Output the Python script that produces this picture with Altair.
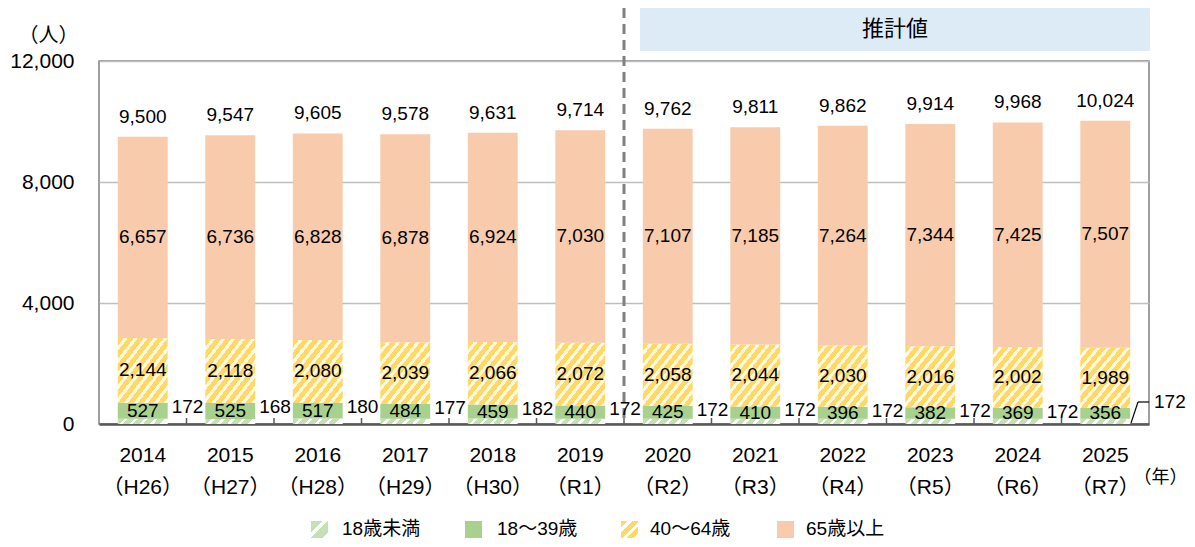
import altair as alt
import pandas as pd

years = ["2014", "2015", "2016", "2017", "2018", "2019", "2020", "2021", "2022", "2023", "2024", "2025"]
eras = ["（H26）", "（H27）", "（H28）", "（H29）", "（H30）", "（R1）", "（R2）", "（R3）", "（R4）", "（R5）", "（R6）", "（R7）"]
under18 = [172, 168, 180, 177, 182, 172, 172, 172, 172, 172, 172, 172]
age18_39 = [527, 525, 517, 484, 459, 440, 425, 410, 396, 382, 369, 356]
age40_64 = [2144, 2118, 2080, 2039, 2066, 2072, 2058, 2044, 2030, 2016, 2002, 1989]
age65 = [6657, 6736, 6828, 6878, 6924, 7030, 7107, 7185, 7264, 7344, 7425, 7507]
totals = [9500, 9547, 9605, 9578, 9631, 9714, 9762, 9811, 9862, 9914, 9968, 10024]
series_names = ["18歳未満", "18〜39歳", "40〜64歳", "65歳以上"]
y_ticks = [0, 4000, 8000, 12000]
estimate_label = "推計値"
estimate_start = "2020"

FONT = "Liberation Sans, Noto Sans CJK JP"

labels = [f"{y}|{e}" for y, e in zip(years, eras)]

rows = []
for i, lab in enumerate(labels):
    vals = [under18[i], age18_39[i], age40_64[i], age65[i]]
    cum = 0
    for name, v in zip(series_names, vals):
        rows.append(dict(label=lab, year=years[i], series=name, value=v,
                         y0=cum, y1=cum + v, mid=cum + v / 2,
                         top39=under18[i] + age18_39[i]))
        cum += v
df = pd.DataFrame(rows)
tot_df = pd.DataFrame({"label": labels, "year": years, "total": totals})
one = pd.DataFrame({"a": [0]})


def stripes(c1, c2, n, frac, x2=1, y2=1):
    stops = []
    for k in range(n):
        a = k / n
        b = (k + frac) / n
        c = (k + 1) / n
        stops += [{"offset": a, "color": c1}, {"offset": b, "color": c1},
                  {"offset": b, "color": c2}, {"offset": c, "color": c2}]
    return {"gradient": "linear", "x1": 0, "y1": 0, "x2": x2, "y2": y2, "stops": stops}


GREEN_L = "#C5E0B4"
GREEN = "#A9D18E"
YELLOW = "#FFD966"
YELLOW_L = "#FFF7E0"
PEACH = "#F8CBAD"

fills = {
    "18歳未満": stripes(GREEN_L, "#FFFFFF", 5, 0.65, 1, 0.1),
    "18〜39歳": GREEN,
    "40〜64歳": stripes(YELLOW, YELLOW_L, 10, 0.6, 1, 1),
    "65歳以上": PEACH,
}
legend_fills = {
    "18歳未満": stripes(GREEN_L, "#FFFFFF", 2, 0.65, 1, 1),
    "18〜39歳": GREEN,
    "40〜64歳": stripes(YELLOW, "#FFFFFF", 3, 0.6, 1, 1),
    "65歳以上": PEACH,
}

W, H = 1050, 363
P_INNER = 0.43
STEP = W / len(years)
HALF_GAP = P_INNER * STEP / 2  # pixel distance from bar edge to band boundary

xscale = alt.Scale(paddingInner=P_INNER, paddingOuter=P_INNER / 2)
xaxis = alt.Axis(
    title="（年）", titleX=1061, titleY=53, titleAlign="center", titleBaseline="middle",
    titleFontSize=18, titleFontWeight="normal", titleColor="black",
    labelExpr="split(datum.label, '|')", labelAngle=0, labelFontSize=21,
    labelLineHeight=32, labelPadding=20, labelColor="black", ticks=False,
    domainColor="#595959", domainWidth=2.5, grid=False,
)
yscale = alt.Scale(domain=[0, 12000], nice=False, zero=True)
yaxis = alt.Axis(
    values=y_ticks, format=",.0f", title="（人）", titleAngle=0, titleX=-51, titleY=-26,
    titleAlign="center", titleBaseline="middle", titleFontSize=20, titleFontWeight="normal",
    titleColor="black", labelFontSize=21, labelPadding=25, labelColor="black",
    ticks=False, domain=False, gridColor="#BFBFBF", gridWidth=1.5,
)


def X(**kw):
    return alt.X("label:N", sort=labels, scale=xscale, axis=xaxis, **kw)


def Y(field):
    return alt.Y(field, scale=yscale, axis=yaxis)


layers = []

# tiny ticks at band boundaries (pointing up)
layers.append(
    alt.Chart(tot_df).transform_filter(alt.datum.year != years[0])
    .mark_rule(color="#595959", strokeWidth=1.5, xOffset=-HALF_GAP)
    .encode(x=X(bandPosition=0), y=alt.value(H - 6), y2=alt.value(H))
)

# bars
for name in series_names:
    layers.append(
        alt.Chart(df).transform_filter(alt.datum.series == name)
        .mark_bar(fill=fills[name], strokeWidth=0)
        .encode(x=X(), y=Y("y0:Q"), y2="y1:Q")
    )

# estimate dashed divider
layers.append(
    alt.Chart(tot_df).transform_filter(alt.datum.year == estimate_start)
    .mark_rule(color="#808080", strokeWidth=3, strokeDash=[10, 6], xOffset=-HALF_GAP)
    .encode(x=X(bandPosition=0), y=alt.value(-53), y2=alt.value(H))
)

# estimate box
layers.append(
    alt.Chart(one).mark_rect(color="#DDEBF7")
    .encode(x=alt.value(541), x2=alt.value(W + 1), y=alt.value(-54), y2=alt.value(-10))
)
layers.append(
    alt.Chart(one).mark_text(text=estimate_label, fontSize=22, color="black",
                             align="center", baseline="middle")
    .encode(x=alt.value(796), y=alt.value(-32))
)

# segment labels
layers.append(
    alt.Chart(df).transform_filter(alt.datum.series != series_names[0])
    .mark_text(fontSize=19, color="black", align="center", baseline="middle")
    .encode(x=X(), y=Y("mid:Q"), text=alt.Text("value:Q", format=","))
)
# under-18 labels right of bars
layers.append(
    alt.Chart(df).transform_filter(
        (alt.datum.series == series_names[0]) & (alt.datum.year != years[-1]))
    .mark_text(fontSize=19, color="black", align="center", baseline="middle",
               dx=HALF_GAP + 1, dy=4)
    .encode(x=X(bandPosition=1), y=Y("top39:Q"), text=alt.Text("value:Q", format=","))
)
layers.append(
    alt.Chart(df).transform_filter(
        (alt.datum.series == series_names[0]) & (alt.datum.year == years[-1]))
    .mark_text(fontSize=19, color="black", align="left", baseline="middle",
               dx=HALF_GAP + 5, dy=-6)
    .encode(x=X(bandPosition=1), y=Y("top39:Q"), text=alt.Text("value:Q", format=","))
)
# leader line for last label
layers.append(
    alt.Chart(one).mark_rule(color="black", strokeWidth=1.2)
    .encode(x=alt.value(1032), x2=alt.value(1039), y=alt.value(362), y2=alt.value(341))
)
layers.append(
    alt.Chart(one).mark_rule(color="black", strokeWidth=1.2)
    .encode(x=alt.value(1039), x2=alt.value(1050), y=alt.value(341), y2=alt.value(341))
)

# totals
layers.append(
    alt.Chart(tot_df).mark_text(fontSize=19, color="black", align="center",
                                baseline="middle", dy=-20)
    .encode(x=X(), y=Y("total:Q"), text=alt.Text("total:Q", format=","))
)

# manual legend
leg_sym_x = [212, 366, 522, 678]
leg_txt_x = [243, 398, 551, 707]
for name, sx, tx in zip(series_names, leg_sym_x, leg_txt_x):
    layers.append(
        alt.Chart(one).mark_rect(fill=legend_fills[name])
        .encode(x=alt.value(sx), x2=alt.value(sx + 17), y=alt.value(460), y2=alt.value(477))
    )
    layers.append(
        alt.Chart(one).mark_text(text=name, fontSize=19, color="black",
                                 align="left", baseline="middle")
        .encode(x=alt.value(tx), y=alt.value(468))
    )

chart = (
    alt.layer(*layers)
    .properties(width=W, height=H,
                padding={"left": 91, "top": 53, "right": 38, "bottom": 115},
                autosize=alt.AutoSizeParams(type="none"))
    .configure(font=FONT)
    .configure_view(stroke="#808080", strokeWidth=1.5)
)

chart.save("out.html", embed_options={"renderer": "svg", "actions": False})
